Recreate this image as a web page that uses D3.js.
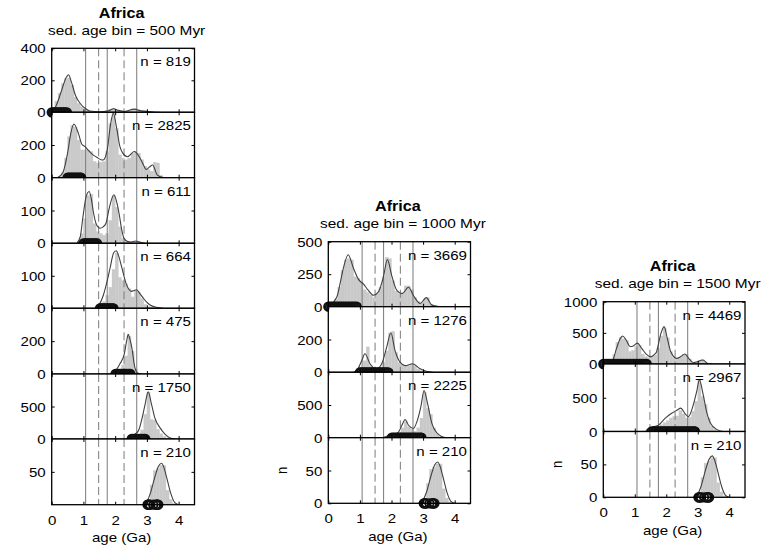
<!DOCTYPE html>
<html>
<head>
<meta charset="utf-8">
<script src="https://cdn.jsdelivr.net/npm/d3@7"></script>
<style>
  html, body { margin: 0; padding: 0; background: #fff; }
  svg { display: block; }
</style>
</head>
<body>
<svg id="fig" width="783" height="551"></svg>
<script>
// ---------------------------------------------------------------
// Detrital zircon ages for Africa, grouped by sedimentary age bin
// ---------------------------------------------------------------
const regionName = "Africa";
const ageTicks = [0, 1, 2, 3, 4];
const ageDomain = [0, 4.5];
const histBinWidth = 0.1;               // Ga
const solidLineAges = [1.07, 1.75, 2.68];
const dashedLineAges = [1.48, 2.28];

// The oldest group (n = 210) appears in every panel
const archeanHistStart = 2.9;
const archeanHist = [2, 8, 30, 52, 55, 60, 60, 22, 8, 2];
const archeanKde = [[2.85,0],[2.94,1],[3.1,16],[3.25,42],[3.36,58],[3.46,63],[3.54,56],[3.62,42],[3.76,16],[3.88,3],[4.0,0]];
const archeanSed = [3.02, 3.04, 3.06, 3.08, 3.10, 3.20, 3.28, 3.30, 3.32, 3.34, 3.36];

// ---- 500 Myr sedimentary age bins ----
const bin500Counts = [819, 2825, 611, 664, 475, 1750, 210];
const bin500YMax = [400, 400, 200, 200, 400, 1000, 100];
const bin500YTicks = [[0,200,400],[0,200],[0,100],[0,100],[0,200],[0,500],[50]];
const bin500HistStart = [0.0, 0.2, 0.8, 1.5, 2.0, 2.5, archeanHistStart];
const bin500Hist = [
  [25,70,120,180,210,215,170,95,55,35,20,10,5,3,2,3,5,10,20,25,15,8,5,5,10,20,22,12,8,6,5,3],
  [10,30,120,250,320,310,230,170,170,170,160,100,90,95,100,160,330,410,300,140,120,110,120,150,160,150,110,70,50,40,95,90,15],
  [5,30,75,145,150,60,35,30,25,30,70,145,110,50,15,5,3,2,5,4],
  [8,20,40,65,120,170,95,85,75,60,35,55,50,30,12,5,3],
  [10,25,55,110,230,140,30,6],
  [10,30,60,140,380,720,300,290,150,80,40,15],
  archeanHist
];
const bin500Kde = [
  [[0.0,4],[0.05,10],[0.15,45],[0.3,130],[0.45,215],[0.53,235],[0.62,190],[0.75,105],[0.9,55],[1.05,25],[1.2,8],[1.5,3],[1.8,10],[1.95,22],[2.1,12],[2.3,5],[2.6,20],[2.75,12],[3.0,6],[3.2,2],[3.4,0]],
  [[0.2,3],[0.35,30],[0.5,150],[0.6,270],[0.7,328],[0.84,271],[0.95,205],[1.05,190],[1.12,175],[1.3,140],[1.42,125],[1.55,110],[1.62,108],[1.75,170],[1.85,320],[1.94,394],[2.05,300],[2.15,190],[2.24,150],[2.39,128],[2.6,160],[2.76,128],[2.9,75],[2.97,50],[3.08,65],[3.18,78],[3.33,16],[3.5,2]],
  [[0.8,2],[0.9,20],[0.98,77],[1.08,140],[1.18,158],[1.25,135],[1.31,97],[1.42,55],[1.52,46],[1.62,50],[1.71,61],[1.82,110],[1.96,148],[2.05,125],[2.13,87],[2.2,45],[2.28,15],[2.4,5],[2.5,4],[2.65,7],[2.8,3],[2.95,0]],
  [[1.4,3],[1.5,12],[1.63,41],[1.75,85],[1.84,124],[1.95,170],[2.03,177],[2.12,158],[2.2,129],[2.36,72],[2.52,52],[2.6,55],[2.68,57],[2.78,45],[2.89,31],[3.0,18],[3.1,10],[3.3,3],[3.5,0]],
  [[1.85,2],[1.95,12],[2.05,30],[2.15,62],[2.29,124],[2.36,200],[2.41,241],[2.46,215],[2.52,165],[2.62,41],[2.72,4],[2.8,0]],
  [[2.35,5],[2.47,25],[2.6,70],[2.73,125],[2.85,325],[2.94,525],[3.04,725],[3.15,525],[3.25,325],[3.41,175],[3.57,75],[3.73,15],[3.9,0]],
  archeanKde
];
const bin500Sed = [
  [0.00,0.04,0.08,0.12,0.16,0.20,0.24,0.28,0.32,0.36,0.40,0.44,0.48],
  [0.50,0.54,0.58,0.62,0.66,0.70,0.74,0.78,0.82,0.86,0.90,0.93],
  [1.00,1.04,1.08,1.12,1.16,1.20,1.24,1.28,1.32,1.36,1.40,1.43],
  [1.52,1.56,1.60,1.64,1.68,1.72,1.76,1.80,1.84,1.88,1.92,1.95],
  [2.01,2.05,2.09,2.13,2.17,2.21,2.25,2.29,2.33,2.37,2.41,2.45,2.48],
  [2.52,2.56,2.60,2.64,2.68,2.72,2.76,2.80,2.84,2.88,2.92,2.95],
  archeanSed
];

// ---- 1000 Myr sedimentary age bins ----
const bin1000Counts = [3669, 1276, 2225, 210];
const bin1000YMax = [500, 400, 1000, 100];
const bin1000YTicks = [[0,250,500],[0,200],[0,500],[0,50]];
const bin1000HistStart = [0.0, 0.9, 1.9, archeanHistStart];
const bin1000Hist = [
  [10,25,60,150,280,360,370,360,230,220,190,130,110,90,70,100,150,230,380,370,200,120,100,110,160,160,130,70,40,30,60,70,20,5],
  [10,30,70,155,40,20,15,30,60,130,240,250,120,60,45,40,40,50,40,20,10,4],
  [10,20,40,60,150,250,170,130,100,150,300,700,450,360,150,60,20,5],
  archeanHist
];
const bin1000Kde = [
  [[0.0,5],[0.05,12],[0.27,75],[0.4,210],[0.48,300],[0.63,400],[0.79,300],[0.95,212],[1.11,175],[1.27,125],[1.43,88],[1.58,112],[1.74,225],[1.87,362],[2.01,237],[2.17,125],[2.33,100],[2.54,150],[2.69,88],[2.91,25],[3.1,70],[3.28,12],[3.5,2]],
  [[0.8,1],[0.9,10],[1.06,72],[1.16,113],[1.32,52],[1.53,21],[1.69,52],[1.85,155],[1.98,241],[2.11,134],[2.27,62],[2.43,41],[2.67,52],[2.91,21],[3.1,6],[3.3,0]],
  [[1.75,5],[1.85,20],[2.05,45],[2.22,87],[2.33,190],[2.43,278],[2.54,190],[2.69,140],[2.82,268],[2.93,474],[3.03,721],[3.14,525],[3.28,216],[3.44,72],[3.59,20],[3.75,0]],
  archeanKde
];
const bin1000Sed = [
  [0.00,0.05,0.10,0.15,0.20,0.25,0.30,0.35,0.40,0.45,0.50,0.55,0.60,0.65,0.70,0.75,0.80,0.85,0.90],
  [1.00,1.05,1.10,1.15,1.20,1.25,1.30,1.35,1.40,1.45,1.50,1.55,1.60,1.65,1.70,1.75,1.80,1.85,1.90],
  [2.01,2.06,2.11,2.16,2.21,2.26,2.31,2.36,2.41,2.46,2.51,2.56,2.61,2.66,2.71,2.76,2.81,2.86,2.91,2.95],
  archeanSed
];

// ---- 1500 Myr sedimentary age bins ----
const bin1500Counts = [4469, 2967, 210];
const bin1500YMax = [1000, 1000, 100];
const bin1500YTicks = [[0,500,1000],[0,500],[0,50]];
const bin1500HistStart = [0.1, 1.5, archeanHistStart];
const bin1500Hist = [
  [10,50,150,350,430,400,380,200,220,280,300,160,120,100,130,140,250,450,580,420,200,100,90,110,150,150,80,30,40,50,70,30,5],
  [20,40,70,100,130,160,200,220,230,310,260,200,210,300,450,770,520,400,200,80,30,10],
  archeanHist
];
const bin1500Kde = [
  [[0.0,3],[0.15,8],[0.27,28],[0.42,250],[0.53,400],[0.61,450],[0.72,390],[0.85,280],[0.95,290],[1.08,335],[1.22,250],[1.38,150],[1.5,115],[1.62,150],[1.69,194],[1.82,472],[1.93,600],[2.03,417],[2.14,200],[2.33,90],[2.46,120],[2.59,160],[2.7,100],[2.85,25],[2.94,28],[3.16,65],[3.33,5],[3.45,0]],
  [[1.35,10],[1.43,40],[1.6,70],[1.75,92],[1.96,194],[2.17,270],[2.35,320],[2.46,347],[2.59,270],[2.7,220],[2.86,398],[2.97,602],[3.05,765],[3.17,551],[3.28,296],[3.41,117],[3.6,31],[3.8,0]],
  archeanKde
];
const bin1500Sed = [
  [0.00,0.05,0.10,0.15,0.20,0.25,0.30,0.35,0.40,0.45,0.50,0.55,0.60,0.65,0.70,0.75,0.80,0.85,0.90,0.95,1.00,1.05,1.10,1.15,1.20,1.25,1.30,1.35,1.38],
  [1.54,1.59,1.64,1.69,1.74,1.79,1.84,1.89,1.94,1.99,2.04,2.09,2.14,2.19,2.24,2.29,2.34,2.39,2.44,2.49,2.54,2.59,2.64,2.69,2.74,2.79,2.84,2.89,2.91],
  archeanSed
];

const panels = [
  { bin: 500,  counts: bin500Counts,  yMax: bin500YMax,  yTicks: bin500YTicks,  histStart: bin500HistStart,  hist: bin500Hist,  kde: bin500Kde,  sed: bin500Sed },
  { bin: 1000, counts: bin1000Counts, yMax: bin1000YMax, yTicks: bin1000YTicks, histStart: bin1000HistStart, hist: bin1000Hist, kde: bin1000Kde, sed: bin1000Sed },
  { bin: 1500, counts: bin1500Counts, yMax: bin1500YMax, yTicks: bin1500YTicks, histStart: bin1500HistStart, hist: bin1500Hist, kde: bin1500Kde, sed: bin1500Sed }
];

// ---- page layout (pixels) ----
const layouts = [
  { left: 51.7,  right: 194.5, rows: [48.3, 112.3, 177.7, 243.3, 308.3, 374, 439, 504.7], yLabel: false },
  { left: 328.3, right: 470.5, rows: [241.7, 306.7, 372.3, 437.7, 503.3], yLabel: true },
  { left: 603.3, right: 745,   rows: [301.7, 364, 431.5, 497.3], yLabel: true }
];

const FONT = "'Liberation Sans', Arial, Helvetica, sans-serif";
const SX = 1.16;                 // horizontal stretch of the lettering
const HIST_FILL = "#c9c9c9";
const KDE_STROKE = "#404040";
const REF_STROKE = "#7a7a7a";

const svg = d3.select("#fig");
svg.append("rect").attr("width", 783).attr("height", 551).attr("fill", "#fff");

function stretchedText(parent, x, y, str, opts = {}) {
  const { size = 13, weight = "normal", anchor = "start", rotate = 0, sx = SX } = opts;
  return parent.append("text")
    .attr("transform", `translate(${x},${y}) scale(${sx},1)` + (rotate ? ` rotate(${rotate})` : ""))
    .attr("text-anchor", anchor)
    .attr("font-family", FONT)
    .attr("font-size", size)
    .attr("font-weight", weight)
    .attr("fill", "#000")
    .text(str);
}

let clipId = 0;

panels.forEach((p, pi) => {
  const L = layouts[pi];
  const x = d3.scaleLinear().domain(ageDomain).range([L.left, L.right]);
  const cx = (L.left + L.right) / 2;
  const top = L.rows[0];
  const nRows = p.counts.length;

  // titles
  stretchedText(svg, cx - 1.5, top - 30.5, regionName, { size: 14.3, weight: "bold", anchor: "middle", sx: 1.13 });
  stretchedText(svg, cx + 3.5, top - 13.3, `sed. age bin = ${p.bin} Myr`, { size: 13.3, anchor: "middle" });

  p.counts.forEach((n, ri) => {
    const y0 = L.rows[ri], y1 = L.rows[ri + 1];
    const y = d3.scaleLinear().domain([0, p.yMax[ri]]).range([y1, y0]);
    const g = svg.append("g");

    // axes background (also hides the lower half of the markers of the row above)
    g.append("rect").attr("x", L.left).attr("y", y0)
      .attr("width", L.right - L.left).attr("height", y1 - y0).attr("fill", "#fff");

    const cid = `clip${clipId++}`;
    g.append("clipPath").attr("id", cid).append("rect")
      .attr("x", L.left).attr("y", y0).attr("width", L.right - L.left).attr("height", y1 - y0);
    const inner = g.append("g").attr("clip-path", `url(#${cid})`);

    // histogram
    const bars = p.hist[ri].map((v, i) => ({ a: p.histStart[ri] + i * histBinWidth, v }));
    inner.selectAll("rect.bar").data(bars).join("rect")
      .attr("class", "bar")
      .attr("x", d => x(d.a))
      .attr("width", d => x(d.a + histBinWidth) - x(d.a))
      .attr("y", d => y(d.v))
      .attr("height", d => y(0) - y(d.v))
      .attr("fill", HIST_FILL)
      .attr("stroke", HIST_FILL).attr("stroke-width", 0.3);

    // reference ages
    inner.selectAll("line.solid").data(solidLineAges).join("line")
      .attr("x1", d => x(d)).attr("x2", d => x(d))
      .attr("y1", y0).attr("y2", y1)
      .attr("stroke", REF_STROKE).attr("stroke-width", 1);
    inner.selectAll("line.dashed").data(dashedLineAges).join("line")
      .attr("x1", d => x(d)).attr("x2", d => x(d))
      .attr("y1", y0).attr("y2", y1)
      .attr("stroke", REF_STROKE).attr("stroke-width", 1)
      .attr("stroke-dasharray", "8,4");

    // density curve
    const line = d3.line().x(d => x(d[0])).y(d => y(d[1])).curve(d3.curveMonotoneX);
    inner.append("path").datum(p.kde[ri])
      .attr("d", line).attr("fill", "none")
      .attr("stroke", KDE_STROKE).attr("stroke-width", 1.1);

    // sedimentary ages of the samples
    g.selectAll("circle.sed").data(p.sed[ri]).join("circle")
      .attr("class", "sed")
      .attr("cx", d => x(d)).attr("cy", y(0)).attr("r", 4.2)
      .attr("fill", "none").attr("stroke", "#111").attr("stroke-width", 1.9);

    // y axis, left (labels) and right (ticks only)
    const yl = g.append("g").attr("transform", `translate(${L.left},0)`)
      .call(d3.axisLeft(y).tickValues(p.yTicks[ri]).tickSizeInner(-3).tickSizeOuter(0).tickPadding(6).tickFormat(d3.format("d")));
    yl.select(".domain").remove();
    yl.attr("font-size", null).attr("font-family", null);
    yl.selectAll("line").attr("stroke", "#000").attr("stroke-width", 1);
    yl.selectAll("text")
      .attr("x", null).attr("dy", "0.35em")
      .attr("transform", `translate(-6,0) scale(${SX},1)`)
      .attr("font-family", FONT).attr("font-size", 13).attr("fill", "#000");

    const yr = g.append("g").attr("transform", `translate(${L.right},0)`)
      .call(d3.axisRight(y).tickValues(p.yTicks[ri]).tickSizeInner(-3).tickSizeOuter(0).tickFormat(""));
    yr.select(".domain").remove();
    yr.selectAll("text").remove();
    yr.selectAll("line").attr("stroke", "#000").attr("stroke-width", 1);

    // x ticks top & bottom
    const xt = g.append("g").attr("transform", `translate(0,${y0})`)
      .call(d3.axisTop(x).tickValues(ageTicks).tickSizeInner(-3).tickSizeOuter(0).tickFormat(""));
    xt.select(".domain").remove();
    xt.selectAll("text").remove();
    xt.selectAll("line").attr("stroke", "#000").attr("stroke-width", 1);

    const isLast = ri === nRows - 1;
    const xb = g.append("g").attr("transform", `translate(0,${y1})`)
      .call(d3.axisBottom(x).tickValues(ageTicks).tickSizeInner(-3).tickSizeOuter(0).tickPadding(0).tickFormat(d3.format("d")));
    xb.select(".domain").remove();
    xb.attr("font-size", null).attr("font-family", null);
    xb.selectAll("line").attr("stroke", "#000").attr("stroke-width", 1);
    if (isLast) {
      xb.selectAll("text")
        .attr("y", null).attr("dy", null)
        .attr("transform", `translate(0,20) scale(${SX},1)`)
        .attr("font-family", FONT).attr("font-size", 13).attr("fill", "#000");
    } else {
      xb.selectAll("text").remove();
    }

    // frame
    g.append("rect").attr("x", L.left).attr("y", y0)
      .attr("width", L.right - L.left).attr("height", y1 - y0)
      .attr("fill", "none").attr("stroke", "#000").attr("stroke-width", 1.3);

    // sample count
    stretchedText(g, L.right - 3.5, y0 + 18, `n = ${n}`, { size: 13, anchor: "end" });

    if (isLast) {
      stretchedText(svg, cx - 1.5, y1 + 37.5, "age (Ga)", { size: 13, anchor: "middle" });
      if (L.yLabel) {
        stretchedText(svg, L.left - 41, (y0 + y1) / 2, "n", { size: 13, anchor: "middle", rotate: -90 });
      }
    }
  });
});
</script>
</body>
</html>
